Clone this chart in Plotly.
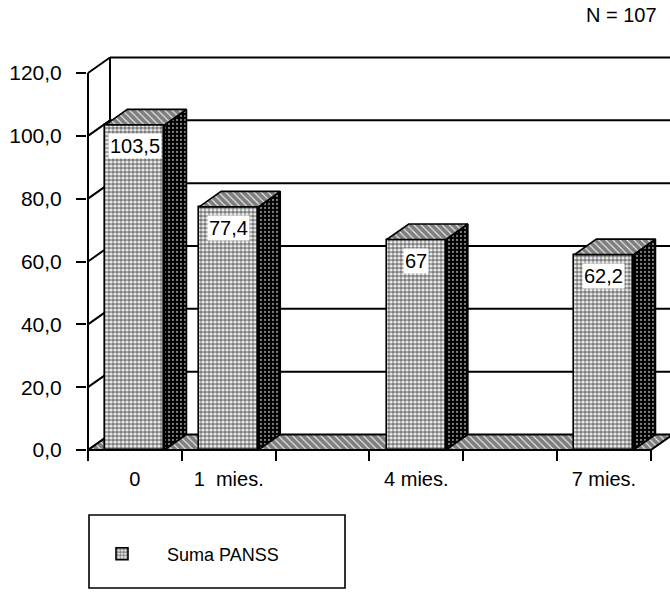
import plotly.graph_objects as go

# ---- data ----
categories = ["0", "1  mies.", "", "4 mies.", "", "7 mies."]
suma_panss = [103.5, 77.4, None, 67, None, 62.2]
y_ticks = [0, 20, 40, 60, 80, 100, 120]
series_name = "Suma PANSS"
sample_size = 107

# ---- geometry (pixels -> data units) ----
W, H = 670, 602
PLOT_L, PLOT_R, PLOT_T, PLOT_B = 87, 670, 50, 461
FRONT_X_PX = 88          # front vertical axis
ZERO_Y_PX = 450          # front floor edge
SLOT_PX = 93.8           # one category slot
UNIT_PX = 377 / 120      # one y unit

x_min = -0.5 - (FRONT_X_PX - PLOT_L) / SLOT_PX
x_max = x_min + (PLOT_R - PLOT_L) / SLOT_PX
y_min = -(PLOT_B - ZERO_Y_PX) / UNIT_PX
y_max = (ZERO_Y_PX - PLOT_T) / UNIT_PX

DX = 22 / SLOT_PX        # 3-D depth, horizontal
DY = 15.5 / UNIT_PX      # 3-D depth, vertical
BAR_W = 0.63

n = len(categories)
x_left, x_right = -0.5, n - 0.5
y_top = y_ticks[-1]

FONT = "Liberation Sans, Arial, Helvetica, sans-serif"

FRONT_PATTERN = dict(shape=".", fgcolor="black", bgcolor="white", size=4, solidity=0.68)
SIDE_PATTERN = dict(shape=".", fgcolor="white", bgcolor="black", size=4, solidity=0.25)
HATCH_PATTERN = dict(shape="\\", fgcolor="black", bgcolor="white", size=5, solidity=0.8)


def fmt(v):
    return f"{v:g}".replace(".", ",")


fig = go.Figure()

# ---- walls: left-wall diagonals, back-wall grid, edges ----
wx, wy = [], []
for v in y_ticks:
    wx += [x_left, x_left + DX, None]
    wy += [v, v + DY, None]
for v in y_ticks[1:]:
    wx += [x_left + DX, x_max + 1, None]
    wy += [v + DY, v + DY, None]
wx += [x_left + DX, x_left + DX, None, x_left, x_left]
wy += [DY, y_top + DY, None, y_min, y_top]
fig.add_trace(go.Scatter(x=wx, y=wy, mode="lines", line=dict(color="black", width=2),
                         hoverinfo="skip", showlegend=False))

# ---- floor ----
fig.add_trace(go.Scatter(
    x=[x_left, x_left + DX, x_right + DX, x_right, x_left],
    y=[0, DY, DY, 0, 0],
    mode="lines", fill="toself", line=dict(color="black", width=2),
    fillcolor="white", fillpattern=HATCH_PATTERN,
    hoverinfo="skip", showlegend=False))

# ---- bar front faces ----
xs = [i for i, v in enumerate(suma_panss) if v is not None]
vals = [v for v in suma_panss if v is not None]
fig.add_trace(go.Bar(
    x=xs, y=vals, width=BAR_W, name=series_name, yaxis="y2",
    marker=dict(color="white", line=dict(color="black", width=1.6), pattern=FRONT_PATTERN),
    hoverinfo="skip"))

# ---- bar sides and tops ----
for x, v in zip(xs, vals):
    l, r = x - BAR_W / 2, x + BAR_W / 2
    fig.add_trace(go.Scatter(
        x=[r, r + DX, r + DX, r, r], y=[0, DY, v + DY, v, 0],
        yaxis="y2", mode="lines", fill="toself", fillcolor="black",
        line=dict(color="black", width=1.6), fillpattern=SIDE_PATTERN,
        hoverinfo="skip", showlegend=False))
    fig.add_trace(go.Scatter(
        x=[l, l + DX, r + DX, r, l], y=[v, v + DY, v + DY, v, v],
        yaxis="y2", mode="lines", fill="toself", fillcolor="white",
        line=dict(color="black", width=1.6), fillpattern=HATCH_PATTERN,
        hoverinfo="skip", showlegend=False))

# ---- value labels ----
annotations = []
for x, v in zip(xs, vals):
    annotations.append(dict(x=x, y=v, xref="x", yref="y", yshift=-21, text=fmt(v),
                            showarrow=False, bgcolor="white", borderpad=1,
                            font=dict(family=FONT, size=20, color="black")))


def px_x(p):
    return (p - PLOT_L) / (PLOT_R - PLOT_L)


def px_y(p):
    return (PLOT_B - p) / (PLOT_B - PLOT_T)


annotations.append(dict(x=px_x(659), y=px_y(15),
                        xref="paper", yref="paper", xanchor="right", yanchor="middle",
                        text=f"N = {sample_size}", showarrow=False,
                        font=dict(family=FONT, size=20, color="black")))

fig.update_layout(
    width=W, height=H,
    margin=dict(l=PLOT_L, r=W - PLOT_R, t=PLOT_T, b=H - PLOT_B, pad=0),
    paper_bgcolor="white", plot_bgcolor="white",
    separators=",.",
    font=dict(family=FONT, color="black"),
    xaxis=dict(range=[x_min, x_max], showgrid=False, zeroline=False, showline=False,
               tickmode="array", tickvals=list(range(n)), ticktext=categories, ticks="",
               ticklabelstandoff=4, tickfont=dict(size=20),
               minor=dict(tickmode="array", tickvals=[i - 0.5 for i in range(n + 1)],
                          ticks="inside", ticklen=11, tickwidth=1.6, tickcolor="black",
                          showgrid=False)),
    yaxis=dict(range=[y_min, y_max], showgrid=False, zeroline=False, showline=False,
               tickmode="array", tickvals=y_ticks, tickformat=".1f",
               ticks="outside", ticklen=10, tickwidth=1.6, tickcolor="black",
               ticklabelstandoff=10, tickfont=dict(size=21)),
    yaxis2=dict(range=[y_min, y_max], overlaying="y", visible=False),
    bargap=0,
    showlegend=True,
    legend=dict(x=px_x(77), y=px_y(554), xanchor="left", yanchor="middle",
                bgcolor="rgba(0,0,0,0)", borderwidth=0, itemwidth=80,
                font=dict(family=FONT, size=18, color="black")),
    shapes=[dict(type="rect", xref="paper", yref="paper",
                 x0=px_x(89), x1=px_x(345), y0=px_y(588), y1=px_y(515),
                 line=dict(color="black", width=1.6))],
    annotations=annotations,
)

fig.write_html("out.html")
